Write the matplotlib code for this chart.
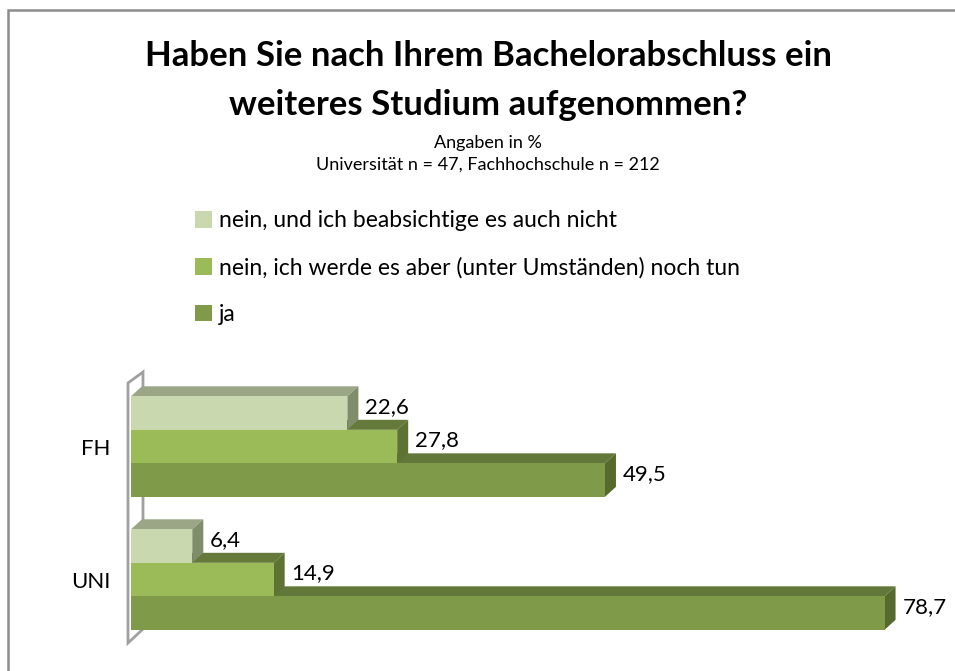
import matplotlib.pyplot as plt
from matplotlib.patches import Polygon, Patch, Rectangle

plt.rcParams['font.family'] = ['Lato', 'DejaVu Sans']

# Daten
kategorien = ['UNI', 'FH']
serien = ['nein, und ich beabsichtige es auch nicht',
          'nein, ich werde es aber (unter Umständen) noch tun',
          'ja']
werte_nicht = [6.4, 22.6]
werte_spaeter = [14.9, 27.8]
werte_ja = [78.7, 49.5]
werte = [werte_nicht, werte_spaeter, werte_ja]

# Farben: Vorderseite, Oberseite, Seite
farben_front = ['#c9d8af', '#9bbb59', '#7f9a48']
farben_oben = ['#9aa685', '#65793a', '#62783a']
farben_seite = ['#7f8d6b', '#5d7233', '#566a2e']

fig = plt.figure(figsize=(9.55, 6.71), dpi=100)
ax = fig.add_axes([131 / 955, 28 / 671, 766 / 955, 260 / 671])
xmax = 80
ax.set_xlim(0, xmax)
ax.set_ylim(-0.477, 1.478)

# Tiefe des 3D-Effekts in Pixel -> Datenkoordinaten
ax_w = 766
ax_h = 260
dx = 11 * xmax / ax_w
dy = 10 * 1.955 / ax_h

h = 0.252
# Wand links
wx0 = -3 * xmax / ax_w
wx1 = wx0 + 15 * xmax / ax_w
wand = Polygon([(wx0, -0.477), (wx0, 1.478), (wx1, 1.478 + 11 * 1.955 / ax_h),
                (wx1, -0.477 + 14 * 1.955 / ax_h)],
               closed=True, facecolor='white', edgecolor='#a0a0a0', lw=2,
               clip_on=False, zorder=1)
ax.add_patch(wand)

# Balken von unten nach oben zeichnen
z = 2
for gi, kat in enumerate(kategorien):
    for si in [2, 1, 0]:
        v = werte[si][gi]
        y0 = gi + (1 - si) * h - h / 2
        y1 = y0 + h
        oben = Polygon([(0, y1), (v, y1), (v + dx, y1 + dy), (dx, y1 + dy)],
                       closed=True, facecolor=farben_oben[si], edgecolor='none',
                       clip_on=False, zorder=z)
        seite = Polygon([(v, y0), (v, y1), (v + dx, y1 + dy), (v + dx, y0 + dy)],
                        closed=True, facecolor=farben_seite[si], edgecolor='none',
                        clip_on=False, zorder=z)
        ax.add_patch(oben)
        ax.add_patch(seite)
        ax.barh(y0, v, height=h, align='edge', color=farben_front[si],
                edgecolor='none', zorder=z + 0.5)
        ax.text(v + dx + 0.7, y0 + h / 2 + dy * 0.6, f'{v:.1f}'.replace('.', ','),
                fontsize=16, va='center', ha='left', zorder=z + 1)
        z += 1

ax.set_yticks([0, 1])
ax.set_yticklabels(kategorien, fontsize=16)
ax.tick_params(axis='y', length=0, pad=15)
ax.set_xticks([])
for s in ax.spines.values():
    s.set_visible(False)

# Titel
fig.text(0.511, 0.880, 'Haben Sie nach Ihrem Bachelorabschluss ein\nweiteres Studium aufgenommen?',
         ha='center', va='center', fontsize=25, fontweight='bold', linespacing=1.62)
fig.text(0.511, 0.787, 'Angaben in %', ha='center', va='center', fontsize=13)
fig.text(0.511, 0.755, 'Universität n = 47, Fachhochschule n = 212',
         ha='center', va='center', fontsize=13)

# Legende
handles = [Patch(facecolor=c, edgecolor='none') for c in farben_front]
fig.legend(handles, serien, loc='upper left', bbox_to_anchor=(186 / 955, 1 - 201 / 671),
           frameon=False, fontsize=16.5, labelspacing=1.12, handlelength=0.75,
           handleheight=0.75, handletextpad=0.3, borderaxespad=0)

# Rahmen
fig.patches.append(Rectangle((8 / 955, -0.1), 1.2, 1 - 10 / 671 + 0.1,
                             transform=fig.transFigure, fill=False,
                             edgecolor='#8c8c8c', lw=1.8))

fig.savefig('out.png', dpi=100)
